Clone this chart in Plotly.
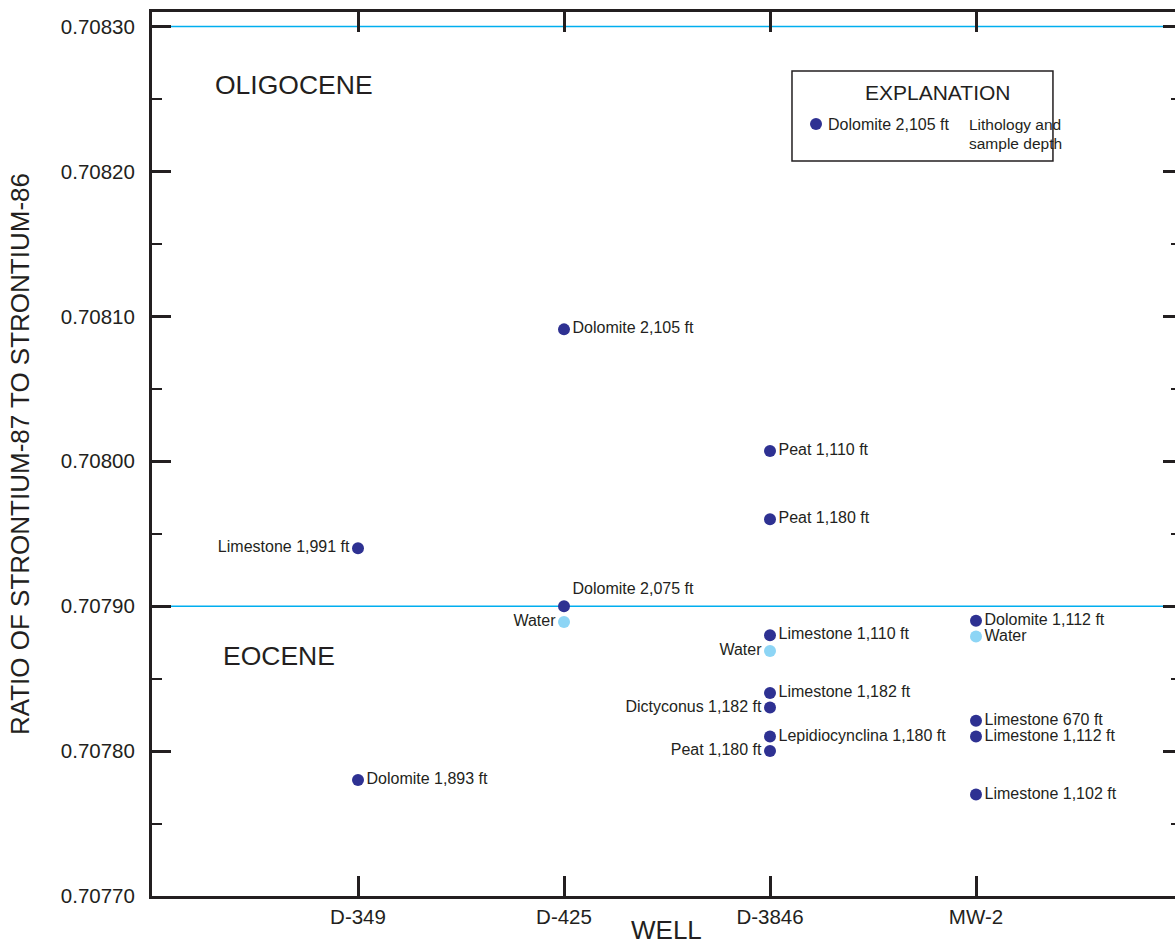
import plotly.graph_objects as go

# strontium isotope ratios by well
wells = [
    "D-349", "D-349",
    "D-425", "D-425", "D-425",
    "D-3846", "D-3846", "D-3846", "D-3846", "D-3846", "D-3846", "D-3846", "D-3846",
    "MW-2", "MW-2", "MW-2", "MW-2", "MW-2",
]
ratios = [
    0.707940, 0.707780,
    0.708091, 0.707900, 0.707889,
    0.708007, 0.707960, 0.707880, 0.707869, 0.707840, 0.707830, 0.707810, 0.707800,
    0.707890, 0.707879, 0.707821, 0.707810, 0.707770,
]
labels = [
    "Limestone 1,991 ft", "Dolomite 1,893 ft",
    "Dolomite 2,105 ft", "Dolomite 2,075 ft", "Water",
    "Peat 1,110 ft", "Peat 1,180 ft", "Limestone 1,110 ft", "Water",
    "Limestone 1,182 ft", "Dictyconus 1,182 ft", "Lepidiocynclina 1,180 ft", "Peat 1,180 ft",
    "Dolomite 1,112 ft", "Water", "Limestone 670 ft", "Limestone 1,112 ft", "Limestone 1,102 ft",
]
kind = [
    "rock", "rock",
    "rock", "rock", "water",
    "rock", "rock", "rock", "water", "rock", "rock", "rock", "rock",
    "rock", "water", "rock", "rock", "rock",
]
label_side = [
    "middle left", "middle right",
    "middle right", "top right", "middle left",
    "middle right", "middle right", "middle right", "middle left",
    "middle right", "middle left", "middle right", "middle left",
    "middle right", "middle right", "middle right", "middle right", "middle right",
]
well_order = ["D-349", "D-425", "D-3846", "MW-2"]
boundaries = [0.70830, 0.70790]
y_range = [0.70770, 0.708310]

INK = "#231f20"
DARK = "#2e3192"
LIGHT = "#8dd5f5"
CYAN = "#00aeef"
FONT = "Liberation Sans, Arial, sans-serif"

fig = go.Figure()

for k, color in [("rock", DARK), ("water", LIGHT)]:
    idx = [i for i, v in enumerate(kind) if v == k]
    fig.add_trace(go.Scatter(
        x=[wells[i] for i in idx],
        y=[ratios[i] for i in idx],
        text=[labels[i] for i in idx],
        textposition=[label_side[i] for i in idx],
        mode="markers+text",
        marker=dict(color=color, size=12),
        textfont=dict(family=FONT, size=16, color=INK),
        showlegend=False,
        cliponaxis=False,
    ))

# invisible trace so the right-hand tick axis gets drawn
fig.add_trace(go.Scatter(
    x=[well_order[0]], y=[y_range[0]], yaxis="y2", mode="markers",
    marker=dict(opacity=0), showlegend=False, hoverinfo="skip",
))

for b in boundaries:
    fig.add_hline(y=b, line=dict(color=CYAN, width=1.5), layer="below")

# explanation box
fig.add_shape(type="rect", xref="paper", yref="paper",
              x0=0.6256, x1=0.8807, y0=0.8314, y1=0.9333,
              line=dict(color=INK, width=1.5))
fig.add_shape(type="circle", xref="paper", yref="paper",
              xsizemode="pixel", ysizemode="pixel",
              xanchor=0.6491, yanchor=0.8733, x0=-6, x1=6, y0=-6, y1=6,
              fillcolor=DARK, line=dict(width=0))

notes = [
    dict(x=0.7674, y=0.9084, text="EXPLANATION", size=21, xanchor="center"),
    dict(x=0.6588, y=0.8733, text="Dolomite 2,105 ft", size=16, xanchor="left"),
    dict(x=0.7967, y=0.8722, text="Lithology and", size=15.5, xanchor="left"),
    dict(x=0.7967, y=0.8518, text="sample depth", size=15.5, xanchor="left"),
    dict(x=0.0596, y=0.9174, text="OLIGOCENE", size=26.5, xanchor="left"),
    dict(x=0.0674, y=0.2715, text="EOCENE", size=26.5, xanchor="left"),
    dict(x=0.5034, y=-0.0385, text="WELL", size=26, xanchor="center"),
]
for n in notes:
    fig.add_annotation(x=n["x"], y=n["y"], xref="paper", yref="paper",
                       text=n["text"], showarrow=False, xanchor=n["xanchor"],
                       yanchor="middle", align="left",
                       font=dict(family=FONT, size=n["size"], color=INK))

fig.update_layout(
    width=1175, height=945,
    margin=dict(l=152, r=0, t=12, b=49),
    paper_bgcolor="white", plot_bgcolor="white",
    font=dict(family=FONT, color=INK),
    xaxis=dict(
        type="category", categoryorder="array", categoryarray=well_order,
        range=[-1, 3.966], showgrid=False, zeroline=False,
        showline=True, linecolor=INK, linewidth=3, mirror="ticks",
        ticks="inside", ticklen=20, tickwidth=3, tickcolor=INK,
        tickfont=dict(size=20.5, color=INK), automargin=False,
    ),
    yaxis=dict(
        range=y_range, dtick=0.0001, tick0=0.7077, tickformat=".5f",
        showgrid=False, zeroline=False,
        showline=True, linecolor=INK, linewidth=3, mirror=True,
        ticks="inside", ticklen=19, tickwidth=3, tickcolor=INK,
        ticklabelstandoff=10,
        tickfont=dict(size=20.5, color=INK), automargin=False,
        minor=dict(ticks="inside", ticklen=10, tickwidth=2, tickcolor=INK,
                   dtick=0.00005, tick0=0.7077, showgrid=False),
        title=dict(text="RATIO OF STRONTIUM-87 TO STRONTIUM-86",
                   font=dict(size=26, color=INK), standoff=24),
    ),
    yaxis2=dict(
        overlaying="y", side="right", range=y_range, dtick=0.0001, tick0=0.7077,
        showgrid=False, zeroline=False, showline=False, showticklabels=False,
        ticks="inside", ticklen=12, tickwidth=3, tickcolor=INK,
        minor=dict(ticks="inside", ticklen=4, tickwidth=2, tickcolor=INK,
                   dtick=0.00005, tick0=0.7077, showgrid=False),
    ),
)

# drop the page margin so the figure sits at the window's corner
fig.write_html(
    "out.html",
    config={"displayModeBar": False},
    post_script="document.body.style.margin='0';document.body.style.overflow='hidden';",
)
